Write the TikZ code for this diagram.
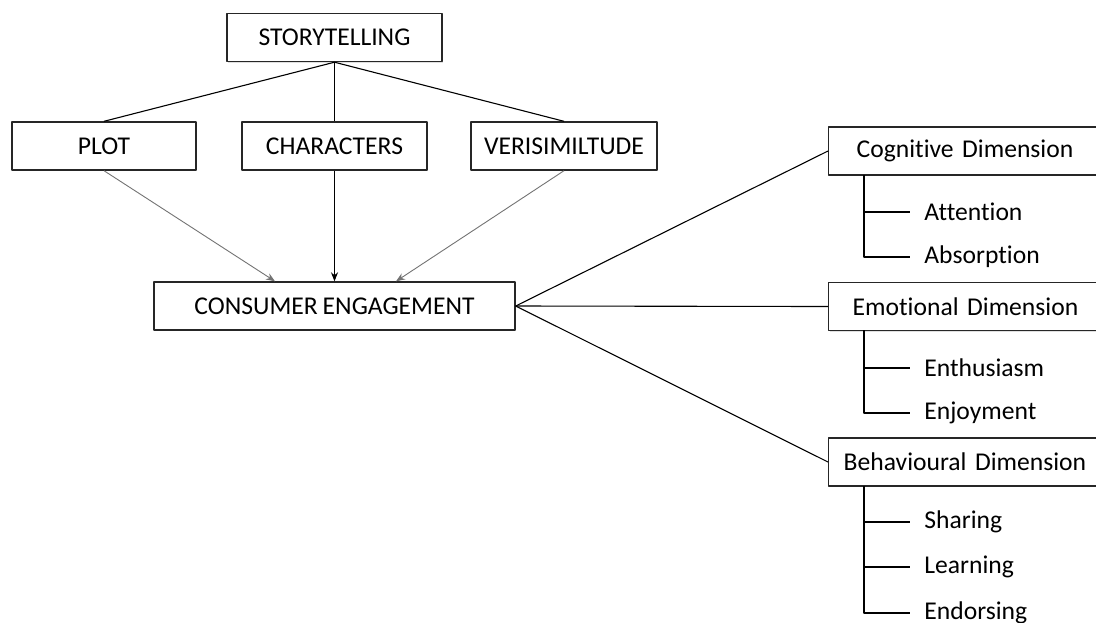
\documentclass[tikz,border=0pt]{standalone}
\usepackage{fontspec}
\setmainfont[RawFeature={-liga;-clig;-calt;-dlig},WordSpace=0.85]{Carlito}
\usetikzlibrary{shadows,arrows.meta}

\begin{document}
\begin{tikzpicture}[
  x=0.5pt,
  y=-0.5pt,
  line join=round,
  box/.style={draw=black!85,line width=0.7pt,fill=white,font=\fontsize{12.8}{15}\selectfont,
    drop shadow={opacity=0.25,shadow xshift=0.6pt,shadow yshift=-0.6pt},
    inner sep=0pt,minimum height=24pt},
  dimbox/.style={box,anchor=west,minimum width=134pt,text width=130pt,align=left},
  item/.style={anchor=west,inner sep=0pt,font=\fontsize{12.8}{15}\selectfont},
  link/.style={draw=black,line width=0.55pt},
  feed/.style={draw=black!55,line width=0.45pt,-{Stealth[length=4.5pt,width=3.5pt]}},
  branch/.style={draw=black,line width=0.55pt}
]
  \useasboundingbox (0,0) rectangle (1096,622);

  % Storytelling and its three elements.
  \node[box,minimum width=107.5pt] (story) at (334.5,37.5) {STORYTELLING};
  \node[box,minimum width=92pt] (plot) at (104,146) {PLOT};
  \node[box,minimum width=92.5pt] (chars) at (334.5,146) {CHARACTERS};
  \node[box,minimum width=93pt] (veri) at (564,146) {VERISIMILTUDE};

  \node[box,minimum width=180.5pt] (ce) at (334.5,306) {CONSUMER ENGAGEMENT};

  \draw[link] (story.south) -- (plot.north);
  \draw[link] (story.south) -- (chars.north);
  \draw[link] (story.south) -- (veri.north);

  \draw[feed] (plot.south) -- (ce.north -| 275,0);
  \draw[feed,draw=black] (chars.south) -- (ce.north);
  \draw[feed] (veri.south) -- (ce.north -| 396,0);

  % Dimensions of engagement.
  \node[dimbox] (cog) at (828,151) {\hspace{12pt}Cognitive Dimension};
  \node[dimbox] (emo) at (828,306.5) {\hspace{10pt}Emotional Dimension};
  \node[dimbox] (beh) at (828,462) {\hspace{5.5pt}Behavioural Dimension};

  \draw[link] (ce.east) -- (cog.west);
  \draw[link] (ce.east) -- (emo.west);
  \draw[link] (ce.east) -- (beh.west);

  % Sub-items under each dimension.
  \node[item] (att) at (924,212) {Attention};
  \node[item] (abs) at (924,257) {Absorption};
  \node[item] (ent) at (924,368) {Enthusiasm};
  \node[item] (enj) at (924,413) {Enjoyment};
  \node[item] (sha) at (924,522) {Sharing};
  \node[item] (lea) at (924,567) {Learning};
  \node[item] (end) at (924,613) {Endorsing};

  \coordinate (cogb) at (864,175);
  \coordinate (emob) at (864,330);
  \coordinate (behb) at (864,486);

  \draw[branch] (cogb) |- ([xshift=-7pt]abs.west);
  \draw[branch] (cogb |- att) -- ([xshift=-7pt]att.west);
  \draw[branch] (emob) |- ([xshift=-7pt]enj.west);
  \draw[branch] (emob |- ent) -- ([xshift=-7pt]ent.west);
  \draw[branch] (behb) |- ([xshift=-7pt]end.west);
  \foreach \p in {sha,lea} {
    \draw[branch] (behb |- \p) -- ([xshift=-7pt]\p.west);
  }
\end{tikzpicture}
\end{document}
